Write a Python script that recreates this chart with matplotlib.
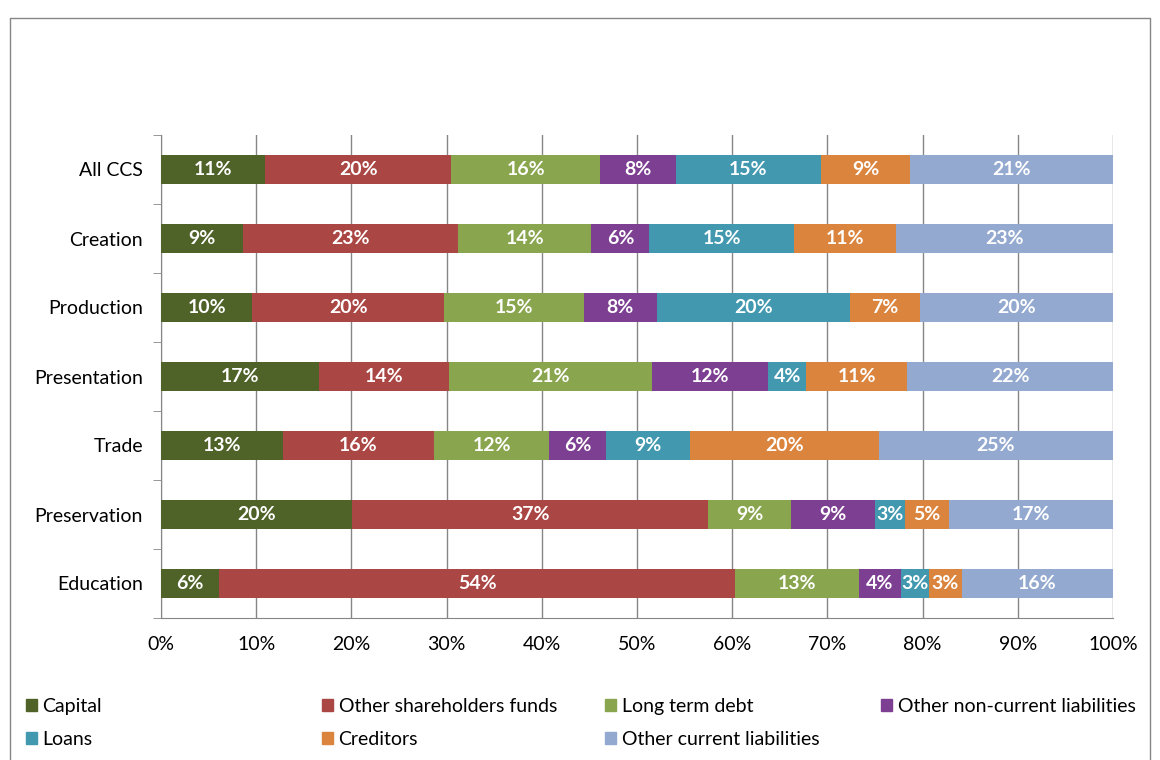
import matplotlib
matplotlib.use("Agg")
import matplotlib.pyplot as plt
import matplotlib.ticker as mticker
from matplotlib.patches import Patch
import numpy as np

plt.rcParams.update({
    "font.family": ["Lato", "DejaVu Sans"],
    "font.size": 14,
})

sectors = ["All CCS", "Creation", "Production", "Presentation", "Trade",
           "Preservation", "Education"]
components = ["Capital", "Other shareholders funds", "Long term debt",
              "Other non-current liabilities", "Loans", "Creditors",
              "Other current liabilities"]

# share of total liabilities, % (one list per component, sector order as above)
capital = [10.9, 8.6, 9.6, 16.6, 12.8, 20.1, 6.1]
other_sh_funds = [19.6, 22.6, 20.1, 13.6, 15.9, 37.4, 54.2]
long_term_debt = [15.6, 14.0, 14.7, 21.4, 12.1, 8.7, 13.0]
other_noncurrent = [8.0, 6.1, 7.7, 12.2, 5.9, 8.8, 4.4]
loans = [15.2, 15.2, 20.3, 4.0, 8.9, 3.1, 3.0]
creditors = [9.4, 10.7, 7.3, 10.6, 19.8, 4.7, 3.4]
other_current = [21.3, 22.8, 20.3, 21.6, 24.6, 17.2, 15.9]

series = [capital, other_sh_funds, long_term_debt, other_noncurrent,
          loans, creditors, other_current]
colors = ["#4F6228", "#AA4643", "#89A54E", "#7D3F91", "#4198AF",
          "#DB843D", "#93A9CF"]

fig = plt.figure(figsize=(11.6, 7.6), dpi=100)
ax = fig.add_axes([161 / 1160, 1 - 618 / 760, 952 / 1160, 483 / 760])

y = np.arange(len(sectors))
left = np.zeros(len(sectors))
for vals, col, name in zip(series, colors, components):
    vals = np.array(vals)
    bars = ax.barh(y, vals, 0.41, left=left, color=col, label=name, zorder=3)
    for b, v in zip(bars, vals):
        ax.text(b.get_x() + b.get_width() / 2, b.get_y() + b.get_height() / 2,
                f"{v:.0f}%", ha="center", va="center", color="white",
                fontsize=14, fontweight="bold", zorder=4)
    left += vals

ax.set_xlim(0, 100)
ax.set_ylim(len(sectors) - 0.5, -0.5)
ax.set_yticks(y)
ax.set_yticklabels(sectors)
ax.set_yticks(np.arange(-0.5, len(sectors)), minor=True)
ax.xaxis.set_major_locator(mticker.MultipleLocator(10))
ax.xaxis.set_major_formatter(mticker.FuncFormatter(lambda v, _: f"{v:.0f}%"))

ax.grid(axis="x", color="#868686", linewidth=1, zorder=0)
for s in ("top", "right"):
    ax.spines[s].set_visible(False)
for s in ("left", "bottom"):
    ax.spines[s].set_color("#868686")
ax.tick_params(axis="y", which="major", length=0, pad=13)
ax.tick_params(axis="y", which="minor", length=6, color="#868686")
ax.tick_params(axis="x", length=0, pad=13)

# legend laid out in fixed-width columns, row-major
handles = [Patch(color=c) for c in colors]
cols = [(26, [0, 4]), (322, [1, 5]), (605, [2, 6]), (881, [3])]
for x0, idx in cols:
    fig.legend([handles[i] for i in idx], [components[i] for i in idx],
               loc="upper left", bbox_to_anchor=(x0 / 1160, 1 - 698 / 760),
               frameon=False, handlelength=0.55, handleheight=0.55,
               handletextpad=0.3, labelspacing=0.8, borderpad=0,
               borderaxespad=0, fontsize=14)

# outer chart frame
fig.add_artist(plt.Line2D([10 / 1160, 10 / 1160, 1150 / 1160, 1150 / 1160],
                          [0, 1 - 18 / 760, 1 - 18 / 760, 0],
                          transform=fig.transFigure, color="#868686", lw=1))

fig.savefig("out.png", dpi=100, facecolor="white")
